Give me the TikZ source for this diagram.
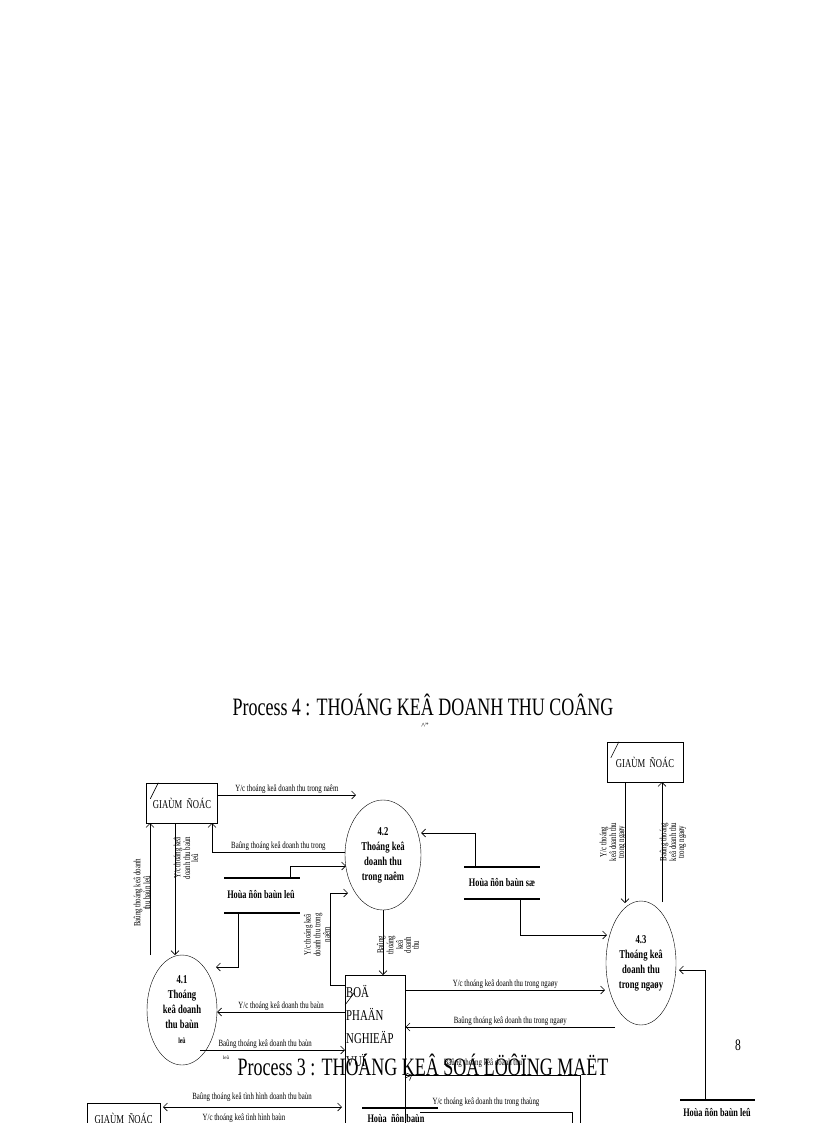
\documentclass[tikz,border=0pt]{standalone}
\usepackage{fontspec}
\setmainfont{Liberation Serif}
\newfontfamily\narrowf[FakeStretch=0.72]{Liberation Serif}
\usetikzlibrary{shapes.geometric,arrows.meta}
\tikzset{
  lbl/.style={font=\narrowf\fontsize{9.5}{9}\selectfont,inner sep=1pt},
  vlbl/.style={font=\narrowf\fontsize{9.5}{8}\selectfont,inner sep=0pt,rotate=90,align=center},
  proc/.style={draw,ellipse,inner sep=0pt,align=center,font=\narrowf\bfseries\fontsize{12}{15}\selectfont},
  ent/.style={draw,rectangle,font=\narrowf\fontsize{12}{12}\selectfont,inner sep=2pt},
  arr/.style={-{Straight Barb[length=4pt]},line width=0.6pt},
  ln/.style={line width=0.6pt},
  store/.style={line width=2pt},
  stxt/.style={font=\narrowf\bfseries\fontsize{11.5}{11}\selectfont},
  ttl/.style={font=\narrowf\fontsize{25}{25}\selectfont}
}
\begin{document}
\begin{tikzpicture}[x=1pt,y=-1pt]
\useasboundingbox (0,0) rectangle (816,1123);
\node[ttl] (t4) at (423,705) {Process 4 : THOÁNG KEÂ DOANH THU COÂNG};
\node[font=\fontsize{8}{8}\selectfont] (t4b) at (425,726) {\textasciicircum"};
% entities
\node[ent,minimum width=71pt,minimum height=40pt] (gd1) at (182,803) {GIAÙM \ ÑOÁC};
\draw[ln] (gd1.north west)++(12,0) -- ++(-8,16);
\node[ent,minimum width=76pt,minimum height=40pt] (gd2) at (645,762) {GIAÙM \ ÑOÁC};
\draw[ln] (gd2.north west)++(12,0) -- ++(-8,16);
\node[draw,minimum width=60pt,minimum height=160pt,anchor=north west,line width=0.6pt] (bp) at (345,975) {};
\node[font=\narrowf\fontsize{15}{23}\selectfont,align=left,anchor=north west,inner sep=1pt] (bpt) at (345,984) {BOÄ\\PHAÄN\\NGHIEÄP\\VUÏ};
\draw[ln] (354,993) -- (345,1005);
% processes
\node[proc,minimum width=76pt,minimum height=110pt] (p42) at (383,855) {4.2\\Thoáng keâ\\doanh thu\\trong naêm};
\node[proc,minimum width=70pt,minimum height=110pt] (p41) at (182,1010) {4.1\\Thoáng\\keâ doanh\\thu baùn\\{\fontsize{8}{8}\selectfont leû}};
\node[proc,minimum width=70pt,minimum height=124pt] (p43) at (641,963) {4.3\\Thoáng keâ\\doanh thu\\trong ngaøy};
% stores
\draw[store] (224,878) -- (300,878) (224,913) -- (300,913);
\node[stxt] (s1) at (261,895) {Hoùa ñôn baùn leû};
\draw[store] (464,867) -- (540,867) (464,899) -- (540,899);
\node[stxt] (s2) at (502,883) {Hoùa ñôn baùn sæ};
\draw[store] (680,1100) -- (755,1100);
\node[stxt] (s3) at (717,1113) {Hoùa ñôn baùn leû};
% flows 4.2
\draw[arr] (gd1.east |- 0,795) -- (p42.north west |- 0,795) node[lbl,midway,above] {Y/c thoáng keâ doanh thu trong naêm};
\draw[arr] (p42.west |- 0,852) -- (212,852) node[lbl,midway,above] {Baûng thoáng keâ doanh thu trong} -- (212,823);
\draw[arr] (290,878) -- (290,866) -- (346,866);
\draw[arr] (bp.west |- 0,985) -- (330,985) -- (330,893) -- (348,893);
\node[vlbl] (v1) at (317,935) {Y/c thoáng keâ\\doanh thu trong\\naêm};
\draw[arr] (p42.south) -- (383,975);
\node[vlbl] (v2) at (398,945) {Baûng\\thoáng\\keâ\\doanh\\thu};
\draw[arr] (475,867) -- (475,833) -- (p42.east |- 0,833);
% flows 4.1
\draw[arr] (238,913) -- (238,967) -- (216,967);
\draw[arr] (175,823) -- (175,955);
\draw[arr] (150,955) -- (150,823);
\node[vlbl] (v3) at (142,893) {Baûng thoáng keâ doanh\\thu baùn leû};
\node[vlbl] (v4) at (186,858) {Y/c thoáng keâ\\doanh thu baùn\\leû};
\draw[arr] (bp.west |- 0,1012) -- (p41.east |- 0,1012) node[lbl,midway,above] {Y/c thoáng keâ doanh thu baùn};
\draw[arr] (200,1050) -- (345,1050) node[lbl,pos=0.45,above] {Baûng thoáng keâ doanh thu baùn};
\node[font=\fontsize{5}{5}\selectfont] (x1) at (226,1058) {leû};
% flows 4.3
\draw[arr] (bp.east |- 0,990) -- (605,990) node[lbl,midway,above] {Y/c thoáng keâ doanh thu trong ngaøy};
\draw[arr] (615,1027) -- (bp.east |- 0,1027) node[lbl,midway,above] {Baûng thoáng keâ doanh thu trong ngaøy};
\draw[arr] (520,899) -- (520,935) -- (607,935);
\draw[arr] (625,782) -- (625,903);
\draw[arr] (662,902) -- (662,782);
\node[vlbl] (v5) at (613,842) {Y/c thoáng\\keâ doanh thu\\trong ngaøy};
\node[vlbl] (v6) at (673,842) {Baûng thoáng\\keâ doanh thu\\trong ngaøy};
\draw[arr] (705,1100) -- (705,970) -- (679,970);
\node[font=\narrowf\fontsize{16}{16}\selectfont] (pg) at (738,1045) {8};
% Process 3 overlay
\node[ttl] (t3) at (423,1065) {Process 3 : THOÁNG KEÂ SOÁ LÖÔÏNG MAËT};
\node[lbl] (o1) at (483,1063) {Baûng thoáng keâ doanh thu};
\draw[ln] (405,1075) -- (580,1075) -- (580,1123);
\draw[arr] (405,1078) -- (412,1075);
\node[lbl] (o2) at (486,1102) {Y/c thoáng keâ doanh thu trong thaùng};
\draw[ln] (420,1112) -- (572,1112) -- (572,1123);
\draw[store] (362,1108) -- (438,1108);
\node[stxt,anchor=west] (o3) at (364,1119) {Hoùa \ ñôn baùn};
\node[ent,minimum width=73pt,minimum height=30pt,anchor=north west] (gd3) at (87,1103) {GIAÙM \ ÑOÁC};
\draw[{Straight Barb[length=4pt]}-{Straight Barb[length=4pt]},line width=0.6pt] (163,1107) -- (342,1107);
\node[lbl] (o4) at (252,1097) {Baûng thoáng keâ tình hình doanh thu baùn};
\node[lbl] (o5) at (244,1118) {Y/c thoáng keâ tình hình baùn};
\end{tikzpicture}
\end{document}
